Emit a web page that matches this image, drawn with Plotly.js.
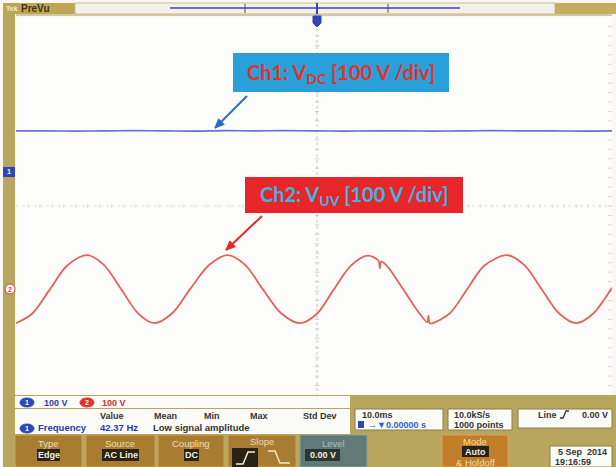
<!DOCTYPE html>
<html><head><meta charset="utf-8">
<script src="https://cdn.plot.ly/plotly-3.0.1.min.js"></script>
<style>html,body{margin:0;padding:0;background:#fff}#c{width:616px;height:467px}</style>
</head><body><div id="c"></div>
<script>
// ---- data ----
const ch2TimeMs = [-50,-47.3,-44.4,-41.4,-38.1,-35.3,-32.4,-29.6,-26.8,-23.8,-20.8,-17.6,-14.5,-11.6,-8.6,-5.5,-2.4,0.5,3.3,6.2,9.0,10.7,10.9,11.05,11.25,12.2,14.9,17.5,19.0,19.2,19.4,19.9,22.8,25.7,28.6,32.4,35.3,38.2,41.1,44.0,46.9,49.8,50];
const ch2Volts  = [-72,-52,-2,50,72,52,1,-50,-72,-51,0,51,72,52,0,-51,-72,-52,-1,50,71,62,58,44,58,50,1,-48,-70,-56,-72,-72,-51,0,50,72,51,0,-51,-72,-51,-1,3];
const ch1TimeMs = [-50,-45,-40,-35,-30,-25,-20,-15,-10,-5,0,5,10,15,20,25,30,35,40,45,50];
const ch1Volts  = [87,87,86.5,87,87.5,87,86.5,87.5,87,87.5,87,86.5,87,87,86.5,87,87.5,87,87,86.5,87];
const ch1Label = 'Ch1: V<sub>DC</sub> [100 V /div]';
const ch2Label = 'Ch2: V<sub>UV</sub> [100 V /div]';
const voltsPerDiv = 100;
const ch1OffsetDiv = 0.72;
const ch2OffsetDiv = -1.76;

// ---- helpers (pixel -> paper) ----
const L=16,R=612,TOP=17,BOT=395,W=616,H=467;
const X=p=>(p-L)/(R-L);
const Y=p=>(BOT-p)/(BOT-TOP);
const shapes=[], ann=[];
function rect(x0,y0,x1,y1,fill,line,lw){shapes.push({type:'rect',xref:'paper',yref:'paper',x0:X(x0),x1:X(x1),y0:Y(y1),y1:Y(y0),fillcolor:fill,line:{color:line||fill,width:lw===undefined?0:lw},layer:'below'});}
function line(x0,y0,x1,y1,color,w,dash,layer){shapes.push({type:'line',xref:'paper',yref:'paper',x0:X(x0),x1:X(x1),y0:Y(y0),y1:Y(y1),line:{color:color,width:w||1,dash:dash||'solid'},layer:layer||'below'});}
function circ(x0,y0,x1,y1,fill,line){shapes.push({type:'circle',xref:'paper',yref:'paper',x0:X(x0),x1:X(x1),y0:Y(y1),y1:Y(y0),fillcolor:fill,line:{color:line||fill,width:1},layer:'below'});}
function path(pts,color,w,fill){const s={type:'path',xref:'paper',yref:'paper',path:pts.map((p,i)=>(i?'L ':'M ')+X(p[0])+' '+Y(p[1])).join(' ')+(fill?' Z':''),line:{color:color,width:w}}; if(fill) s.fillcolor=fill; shapes.push(s);}
function arrow(x0,y0,x1,y1,color){
  line(x0,y0,x1,y1,color,2,'solid','above');
  const dx=x1-x0, dy=y1-y0, len=Math.hypot(dx,dy), ux=dx/len, uy=dy/len, hl=9, hw=4;
  const bx=x1-ux*hl, by=y1-uy*hl;
  path([[x1,y1],[bx-uy*hw,by+ux*hw],[bx+uy*hw,by-ux*hw]],color,1,color);
}
function T(px,py,text,size,color,anchor,bold,family){ann.push({xref:'paper',yref:'paper',x:X(px),y:Y(py),text:bold?'<b>'+text+'</b>':text,showarrow:false,xanchor:anchor||'left',yanchor:'middle',font:{size:size,color:color,family:family||'Liberation Sans, Arial, sans-serif'}});}

// ---- scope frame ----
const olive='#b8a65e';
rect(3,14,15,398,olive);
rect(3,3,75,14,'#bca653');
rect(75,3,555,14,'#f3f1e8','#cbbd92',1);
rect(555,3,616,14,'#c3ad5f');
line(16,15,612,15,'#c9b98a',1.5);
line(170,8,460,8,'#6b6bd6',2);
line(245,4,245,13,'#555',1);
line(388,4,388,13,'#555',1);
T(4,8,'Tek',7,'#f4ecd0','left',true);
T(19,8,'PreVu',10,'#3b3418','left',true);
// trigger marker
path([[313,16],[321,16],[321,23],[317,27],[313,23]],'#2d46b8',1,'#2d46b8');
line(317,3,317,14,'#2d46b8',2);
// center graticule
line(317,28,317,395,'#c4c4c4',1,'dot');
line(16,206,612,206,'#dcdcdc',1,'dot');
for(let k=-20;k<=20;k++){const yy=206+k*47.25/5; if(yy>28&&yy<395) line(315,yy,319,yy,'#cfcfcf',1);}
for(let k=-25;k<=25;k++){const xx=314+k*59.6/5; if(xx>16&&xx<612) line(xx,204,xx,208,'#e0e0e0',1);}
for(let k=-20;k<=20;k++){const yy=206+k*47.25/5; if(yy>18&&yy<395) line(608,yy,612,yy,'#d8d8d8',1);}
// channel markers on left bar
rect(3,167,15,177,'#2d46b8');
T(9,172,'1',7,'#fff','center',true);
circ(5,284,15,294,'#fff','#e03a3a');
T(10,289,'2',7,'#e03a3a','center',true);

// ---- bottom readout ----
rect(3,395,616,467,olive);
rect(15,396,350,408,'#fbfbf8');
rect(15,409,350,434,'#fbfbf8');
circ(20,398,34,407,'#2d46b8');
T(27,402.5,'1',7,'#fff','center',true);
T(42,402.5,'100 V',9,'#2b3aa8','left',true);
circ(80,398,94,407,'#e03030');
T(87,402.5,'2',7,'#fff','center',true);
T(100,402.5,'100 V',9,'#d42f2f','left',true);
T(112,416,'Value',9,'#333','center',true);
T(165,416,'Mean',9,'#333','center',true);
T(212,416,'Min',9,'#333','center',true);
T(259,416,'Max',9,'#333','center',true);
T(320,416,'Std Dev',9,'#333','center',true);
circ(20,424,34,433,'#2d46b8');
T(27,428.5,'1',7,'#fff','center',true);
T(36,428,'Frequency',9.5,'#2838b0','left',true);
T(98,428,'42.37 Hz',9.5,'#2838b0','left',true);
T(151,428,'Low signal amplitude',9.5,'#333','left',true);
rect(355,409,443,430,'#fbfbf8','#8c7c45',1);
T(360,414.5,'10.0ms',9,'#333','left',true);
rect(358,421,364,428,'#2d46b8');
T(366,424.5,'→▼0.00000 s',9,'#2d5fc8','left',true);
rect(448,409,512,430,'#fbfbf8','#8c7c45',1);
T(452,414.5,'10.0kS/s',9,'#333','left',true);
T(452,424.5,'1000 points',9,'#333','left',true);
rect(518,409,612,428,'#fbfbf8','#8c7c45',1);
T(536,414.5,'Line',9,'#333','left',true);
path([[560,418],[563,418],[566,411],[569,411]],'#333',1.3);
T(610,414.5,'0.00 V',9,'#333','right',true);
// buttons
const btn='#a87d31', btnTxt='#f0dcb0', dark='#2a2214';
rect(15,435,82,467,btn,'#c9a55c',1);
T(48,443,'Type',9.5,btnTxt,'center');
rect(37,449,60,461,dark); T(48.5,455,'Edge',9,'#f4f0e0','center',true);
rect(86,435,155,467,btn,'#c9a55c',1);
T(120,443,'Source',9.5,btnTxt,'center');
rect(102,449,139,461,dark); T(120.5,455,'AC Line',9,'#f4f0e0','center',true);
rect(158,435,224,467,btn,'#c9a55c',1);
T(191,443,'Coupling',9.5,btnTxt,'center');
rect(184,449,199,461,dark); T(191.5,455,'DC',9,'#f4f0e0','center',true);
rect(228,435,296,467,btn,'#c9a55c',1);
T(262,441,'Slope',9.5,btnTxt,'center');
rect(232,448,258,467,dark);
path([[236,464],[243,464],[248,452],[255,452]],'#f4f0e0',1.5);
path([[268,451],[275,451],[280,463],[290,463]],'#f4e6c6',1.5);
rect(300,435,367,467,'#617a77','#8aa09c',1);
T(333,443,'Level',9.5,'#a9bdb8','center');
rect(305,449,340,461,'#2c3432'); T(322.5,455,'0.00 V',9,'#f4f0e0','center',true);
rect(442,435,508,467,'#c27d28','#d9a25a',1);
T(475,441,'Mode',9.5,btnTxt,'center');
rect(462,446,489,457,dark); T(475.5,451.5,'Auto',9,'#f4f0e0','center',true);
T(475,462,'& Holdoff',9.5,btnTxt,'center');
rect(550,446,612,467,'#fbfbf8','#8c7c45',1);
T(609,452,'5 Sep  2014',9,'#333','right',true);
T(553,462,'19:16:59',9,'#333','left',true);

// ---- callout labels ----
rect(233,53,449,92,'#2aa0da');
T(341,73,ch1Label,20,'#e3312b','center',true,'Lato, Open Sans, sans-serif');
rect(245,177,463,213,'#e8262a');
T(354,195,ch2Label,20,'#3fb4e2','center',true,'Lato, Open Sans, sans-serif');
arrow(247,96,215,128,'#2b6cc4');
arrow(262,216,226,250,'#e8262a');

// ---- traces ----
const traces=[
 {x:ch1TimeMs,y:ch1Volts.map(v=>v/voltsPerDiv+ch1OffsetDiv),mode:'lines',line:{color:'#6c6cd8',width:1.6,shape:'spline'},hoverinfo:'skip'},
 {x:ch2TimeMs,y:ch2Volts.map(v=>v/voltsPerDiv+ch2OffsetDiv),mode:'lines',line:{color:'#e4625c',width:1.8,shape:'spline',smoothing:0.9},hoverinfo:'skip'}
];
const layout={width:W,height:H,margin:{l:L,r:W-R,t:TOP,b:H-BOT},
 paper_bgcolor:'#f8f7f2',plot_bgcolor:'#fcfcfa',showlegend:false,
 xaxis:{range:[-50,50],visible:false,fixedrange:true},
 yaxis:{range:[-4,4],visible:false,fixedrange:true},
 shapes:shapes,annotations:ann};
Plotly.newPlot('c',traces,layout,{displayModeBar:false,staticPlot:true});
</script></body></html>
